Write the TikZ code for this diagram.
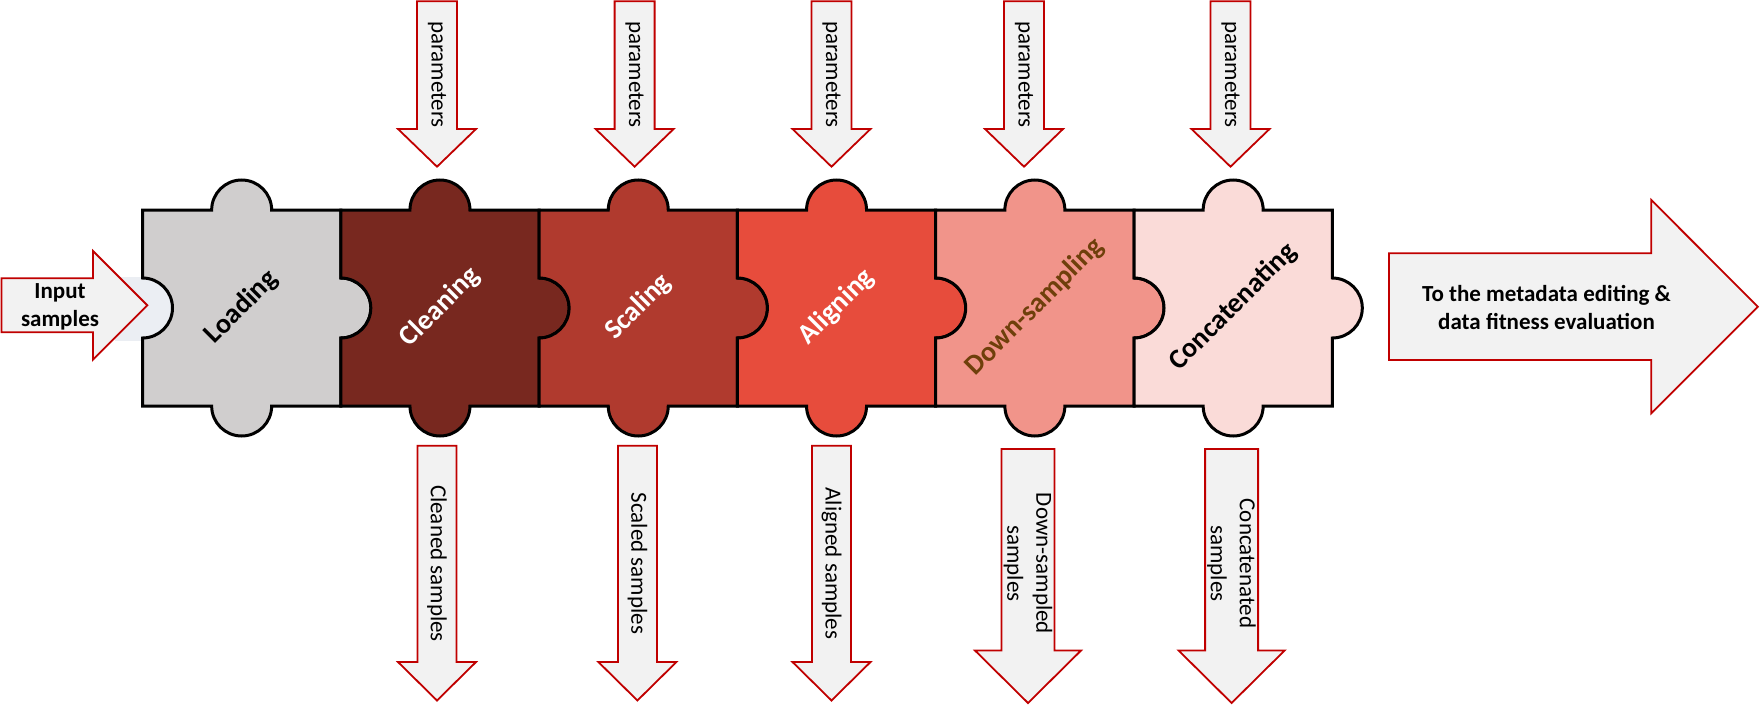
\documentclass[tikz,border=0pt]{standalone}
\usepackage{fontspec}
\setmainfont{Carlito}
\usepackage{tikz}
\definecolor{gris}{HTML}{D0CECE}
\definecolor{rojoA}{HTML}{78281F}
\definecolor{rojoB}{HTML}{B03A2E}
\definecolor{rojoC}{HTML}{E74C3C}
\definecolor{rojoD}{HTML}{F1948A}
\definecolor{rojoE}{HTML}{FADBD8}
\definecolor{cafe}{HTML}{6F3F0B}
\definecolor{borde}{HTML}{C00000}
\definecolor{relleno}{HTML}{F2F2F2}
\definecolor{hueco}{HTML}{EBEEF3}
\tikzstyle{flecha} = [draw=borde, fill=relleno, line width=0.9pt, line join=miter]
\tikzstyle{pieza} = [draw=black, line width=1.5pt, line join=miter]
\tikzstyle{etiqueta} = [font=\fontsize{11.5}{14.5}\selectfont, align=center, inner sep=0pt]
\tikzstyle{negrita} = [etiqueta, font=\fontsize{11.5}{14}\selectfont\bfseries]
\tikzstyle{nombre} = [font=\fontsize{14}{16}\selectfont\bfseries, rotate=45, inner sep=0pt]

\begin{document}
\begin{tikzpicture}[x=0.5pt,y=-0.5pt]
		\useasboundingbox (0,0) rectangle (1760,706);
		% hueco de la primera pieza
		\fill[hueco] (115,277) rectangle (142.5,341);
		\fill[hueco] (142.5,278) arc (-90:90:30) -- cycle;
		% entrada
		\draw[flecha] (1.5,278.3) -- (93,278.3) -- (93,251) -- (147.3,305.3) 
		-- (93,359.6) -- (93,332.3) -- (1.5,332.3) -- cycle;
		\node[negrita] (entrada) at (60,306.5) {Input\\samples};
		% piezas del puzzle
		\foreach \i/\Color/\Tinta/\Texto in 
		{0/gris/black/Loading,1/rojoA/white/Cleaning,2/rojoB/white/Scaling,
		 3/rojoC/white/Aligning,4/rojoD/cafe/Down-sampling,5/rojoE/black/Concatenating}
		{
			\pgfmathsetmacro{\Xl}{142.5+198.3*\i}
			\pgfmathsetmacro{\Xr}{\Xl+198.3}
			\pgfmathsetmacro{\Xm}{\Xl+99.15}
			\draw[pieza, fill=\Color] 
			(\Xl,210) -- (\Xm-30,210) arc (180:360:30) -- (\Xr,210) 
			-- (\Xr,278) arc (-90:90:30) -- (\Xr,406) 
			-- (\Xm+30,406) arc (0:180:30) -- (\Xl,406) 
			-- (\Xl,338) arc (90:-90:30) -- cycle;
			\node[nombre, text=\Tinta] (pieza\i) at (\Xm,307) {\Texto};
		}
		% parametros
		\foreach \Xc/\n in {437/1,634.6/2,831.5/3,1024/4,1230.5/5}
		{
			\draw[flecha] 
			(\Xc-20,1.2) -- (\Xc+20,1.2) -- (\Xc+20,129) -- (\Xc+39,129) 
			-- (\Xc,166.7) -- (\Xc-39,129) -- (\Xc-20,129) -- cycle;
			\node[etiqueta, rotate=-90] (param\n) at (\Xc,74.5) {parameters};
		}
		% salidas
		\foreach \Xc/\Ya/\Yb/\Yc/\a/\b/\n/\Texto in 
		{437/445.7/662/700.5/19.5/39/1/{Cleaned samples},
		 637.4/445.7/662/700.5/19.5/39/2/{Scaled samples},
		 831.5/445.7/662/700.5/19.5/39/3/{Aligned samples},
		 1028/449/650.5/703/26.5/53/4/{Down-sampled\\samples},
		 1231.6/449/650.5/703/26.5/53/5/{Concatenated\\samples}}
		{
			\draw[flecha] 
			(\Xc-\a,\Ya) -- (\Xc+\a,\Ya) -- (\Xc+\a,\Yb) -- (\Xc+\b,\Yb) 
			-- (\Xc,\Yc) -- (\Xc-\b,\Yb) -- (\Xc-\a,\Yb) -- cycle;
			\node[etiqueta, rotate=-90] (salida\n) at (\Xc,563.5) {\Texto};
		}
		% destino
		\draw[flecha] (1389,253.3) -- (1651.3,253.3) -- (1651.3,200) -- (1757.8,306.7) 
		-- (1651.3,413.3) -- (1651.3,360) -- (1389,360) -- cycle;
		\node[negrita] (destino) at (1546.5,307.5) {To the metadata editing \&\\data fitness evaluation};
\end{tikzpicture}
\end{document}
